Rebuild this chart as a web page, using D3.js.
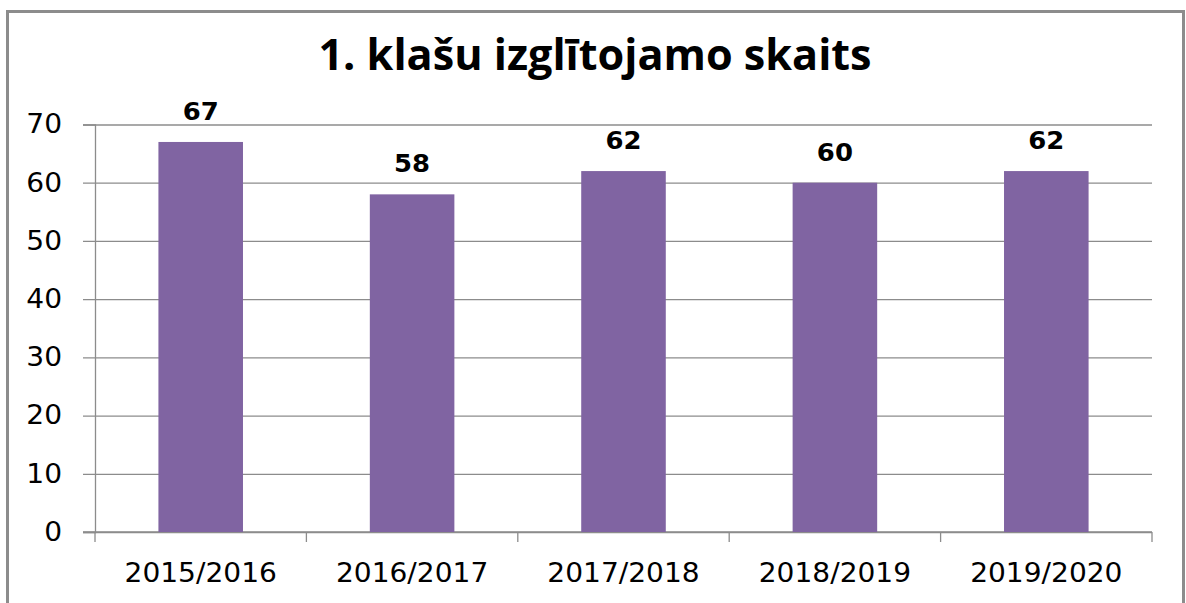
<!DOCTYPE html>
<html>
<head>
<meta charset="utf-8">
<script src="https://cdn.jsdelivr.net/npm/d3@7"></script>
<style>
  body { margin: 0; background: #fff; }
  svg { display: block; }
</style>
</head>
<body>
<div id="chart"></div>
<script>
// 1. klasu izglitojamo skaits - bar chart
var title = "1. klašu izglītojamo skaits";
var years = ["2015/2016", "2016/2017", "2017/2018", "2018/2019", "2019/2020"];
var counts = [67, 58, 62, 60, 62];
var yTicks = [0, 10, 20, 30, 40, 50, 60, 70];

var W = 1186, H = 603;
var plot = {left: 95, right: 1152, top: 124.5, bottom: 532};

var svg = d3.select("#chart").append("svg")
  .attr("width", W)
  .attr("height", H);

// chart frame
svg.append("rect")
  .attr("x", 7.5).attr("y", 11.5)
  .attr("width", 1176).attr("height", 620)
  .attr("fill", "#fff")
  .attr("stroke", "#8c8c8c")
  .attr("stroke-width", 3);

var x = d3.scaleBand()
  .domain(years)
  .range([plot.left, plot.right])
  .paddingInner(0.6)
  .paddingOuter(0.3);

var y = d3.scaleLinear()
  .domain([0, 70])
  .range([plot.bottom, plot.top]);

var grid = "#8c8c8c";
var stretch = 1.08;

// gridlines + y labels
var yg = svg.append("g")
  .attr("transform", "translate(" + plot.left + ",0)")
  .call(d3.axisLeft(y).tickValues(yTicks).tickSize(12).tickPadding(8).tickFormat(d3.format("d")));
yg.select(".domain").attr("stroke", grid).attr("stroke-width", 1.3);
yg.selectAll(".tick line").attr("stroke", grid).attr("stroke-width", 1.3)
  .attr("x1", plot.right - plot.left).attr("x2", -12);
yg.selectAll(".tick text")
  .attr("fill", "#000")
  .attr("x", null)
  .attr("transform", "translate(-33,0) scale(" + stretch + ",1)")
  .style("font-family", "'DejaVu Sans', sans-serif")
  .style("font-size", "26px");

// x axis with ticks between categories
var step = x.step();
var xg = svg.append("g")
  .attr("transform", "translate(0," + plot.bottom + ")");
xg.append("line")
  .attr("x1", plot.left - 12).attr("x2", plot.right)
  .attr("stroke", grid).attr("stroke-width", 1.3);
xg.selectAll("line.sep")
  .data(d3.range(years.length + 1))
  .enter().append("line")
  .attr("class", "sep")
  .attr("x1", i => plot.left + i * step)
  .attr("x2", i => plot.left + i * step)
  .attr("y1", 0).attr("y2", 10)
  .attr("stroke", grid).attr("stroke-width", 1.3);
xg.selectAll("text")
  .data(years)
  .enter().append("text")
  .attr("transform", d => "translate(" + (x(d) + x.bandwidth() / 2) + ",50) scale(" + stretch + ",1)")
  .attr("text-anchor", "middle")
  .style("font-family", "'DejaVu Sans', sans-serif")
  .style("font-size", "26px")
  .text(d => d);

// bars
svg.selectAll("rect.bar")
  .data(counts)
  .enter().append("rect")
  .attr("class", "bar")
  .attr("x", (d, i) => x(years[i]))
  .attr("width", x.bandwidth())
  .attr("y", d => y(d))
  .attr("height", d => plot.bottom - y(d))
  .attr("fill", "#8064a2");

// value labels
svg.selectAll("text.val")
  .data(counts)
  .enter().append("text")
  .attr("class", "val")
  .attr("transform", (d, i) => "translate(" + (x(years[i]) + x.bandwidth() / 2) + "," + (y(d) - 22) + ") scale(" + stretch + ",1)")
  .attr("text-anchor", "middle")
  .style("font-family", "'DejaVu Sans', sans-serif")
  .style("font-weight", "bold")
  .style("font-size", "24px")
  .text(d => d);

// title, sized to the original width
var t = svg.append("text")
  .attr("x", 595)
  .attr("y", 70)
  .attr("text-anchor", "middle")
  .style("font-family", "'Open Sans', sans-serif")
  .style("font-weight", "bold")
  .style("font-size", "36px")
  .text(title);
var tw = t.node().getComputedTextLength();
t.style("font-size", (36 * 554 / tw).toFixed(1) + "px");
</script>
</body>
</html>
